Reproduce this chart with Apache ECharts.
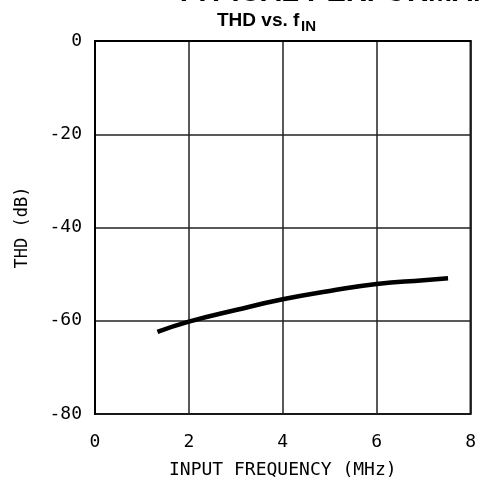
<!DOCTYPE html>
<html>
<head>
<meta charset="utf-8">
<script src="https://cdn.jsdelivr.net/npm/echarts@6/dist/echarts.min.js"></script>
<style>
html,body{margin:0;padding:0;background:#fff;}
#c{width:479px;height:491px;}
</style>
</head>
<body>
<div id="c"></div>
<script>
// Data
const freqMHz = [1.33, 2, 3, 4, 5, 6, 7, 7.52];
const thdDb   = [-62.4, -60.2, -57.7, -55.4, -53.6, -52.1, -51.3, -50.9];
const xTicks = [0, 2, 4, 6, 8];
const yTicks = [0, -20, -40, -60, -80];
const titleMain = 'THD vs. f';
const titleSub = 'IN';
const headerText = 'TYPICAL PERFORMANCE CHARACTERISTICS';
const xName = 'INPUT FREQUENCY (MHz)';
const yName = 'THD (dB)';

const monoFont = '"DejaVu Sans Mono", "Liberation Mono", monospace';
const chart = echarts.init(document.getElementById('c'), null, {renderer: 'canvas'});
chart.setOption({
  animation: false,
  backgroundColor: '#fff',
  grid: {left: 95, right: 8, top: 41, bottom: 77, containLabel: false,
    show: true, borderColor: '#000', borderWidth: 2, backgroundColor: 'transparent'},
  graphic: [
    {type: 'text', left: 175, top: -22, style: {text: headerText, font: 'bold 29px "Liberation Sans", Arial, sans-serif', fill: '#000'}},
    {type: 'text', left: 217, top: 11, style: {text: titleMain, font: 'bold 19px "Liberation Sans", Arial, sans-serif', fill: '#000'}},
    {type: 'text', left: 301, top: 19, style: {text: titleSub, font: 'bold 15px "Liberation Sans", Arial, sans-serif', fill: '#000'}}
  ],
  xAxis: {
    type: 'value', min: 0, max: 8, interval: 2,
    name: xName, nameLocation: 'middle', nameGap: 47,
    nameTextStyle: {fontFamily: monoFont, fontSize: 18, color: '#000'},
    axisLine: {show: true, lineStyle: {color: '#000', width: 2}},
    axisTick: {show: false},
    axisLabel: {fontFamily: monoFont, fontSize: 18, color: '#000', margin: 19,
      formatter: v => xTicks.includes(v) ? String(v) : ''},
    splitLine: {show: true, lineStyle: {color: '#222', width: 1.5}}
  },
  yAxis: {
    type: 'value', min: -80, max: 0, interval: 20,
    name: yName, nameLocation: 'middle', nameGap: 64, nameRotate: 90,
    nameTextStyle: {fontFamily: monoFont, fontSize: 17, color: '#000'},
    axisLine: {show: true, lineStyle: {color: '#000', width: 2}},
    axisTick: {show: false},
    axisLabel: {fontFamily: monoFont, fontSize: 18, color: '#000', margin: 13,
      formatter: v => yTicks.includes(v) ? String(v) : ''},
    splitLine: {show: true, lineStyle: {color: '#222', width: 1.5}}
  },
  series: [{
    type: 'line',
    data: freqMHz.map((f, i) => [f, thdDb[i]]),
    smooth: true,
    symbol: 'none',
    lineStyle: {color: '#000', width: 4.5},
    clip: false
  }]
});
</script>
</body>
</html>
